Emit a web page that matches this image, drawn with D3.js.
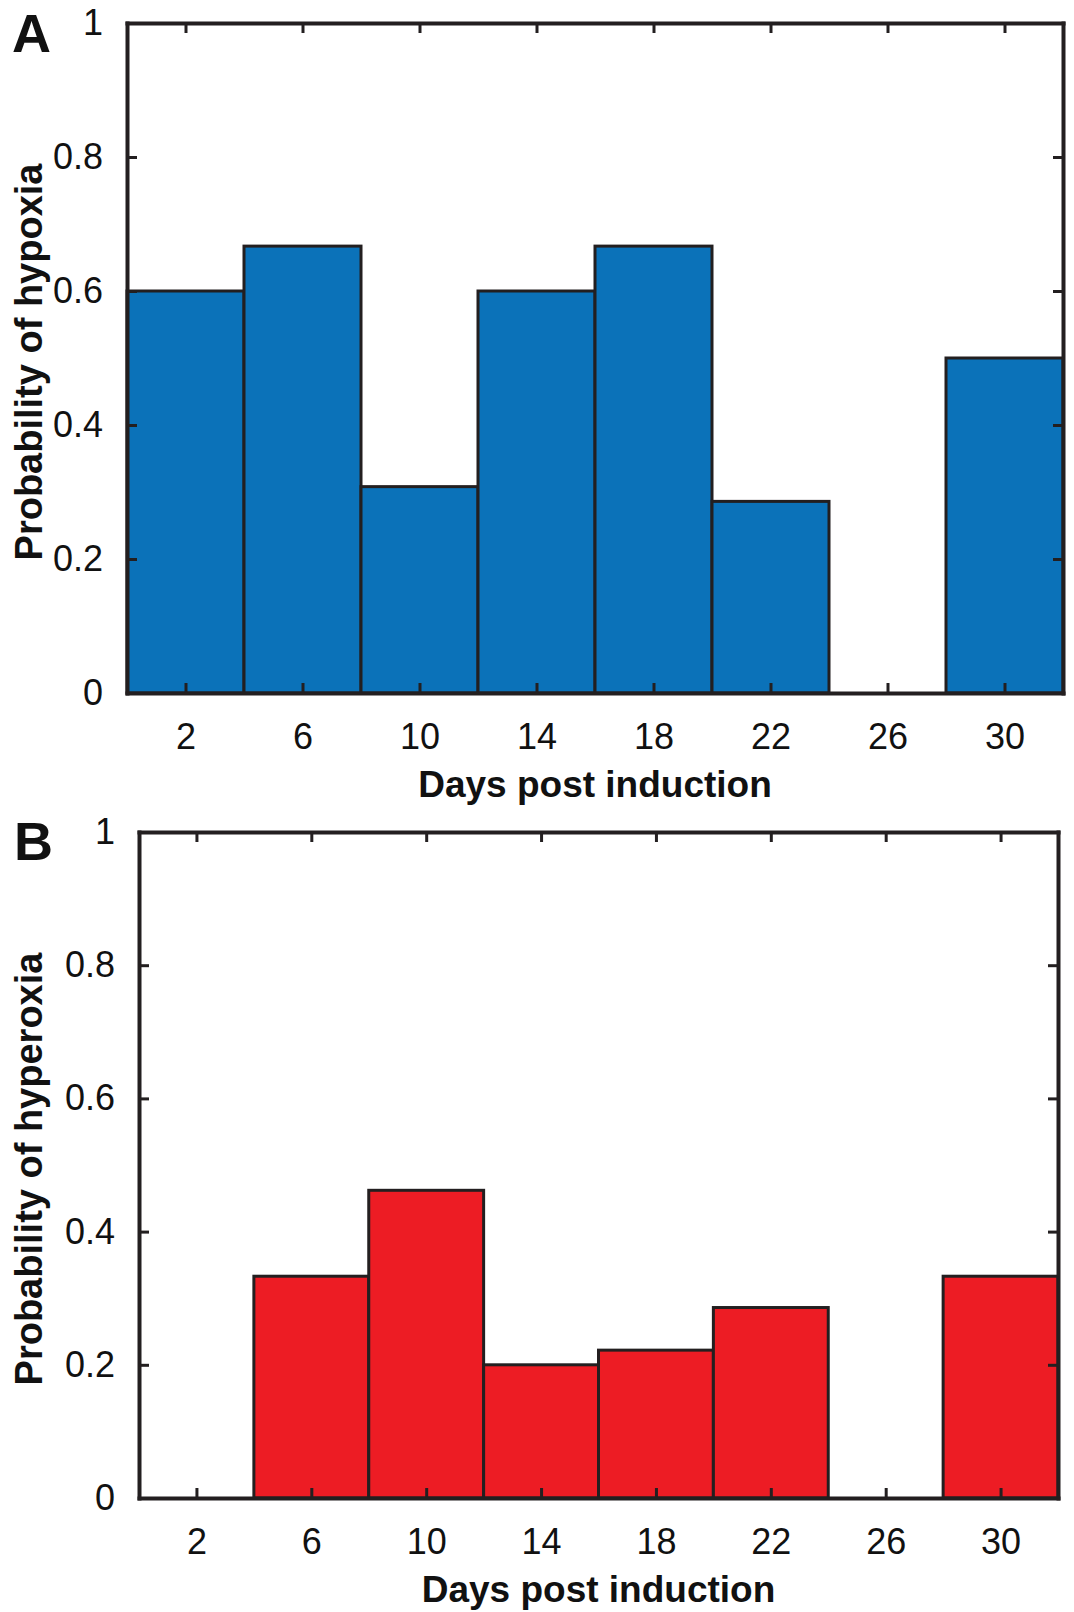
<!DOCTYPE html>
<html>
<head>
<meta charset="utf-8">
<script src="https://cdn.jsdelivr.net/npm/d3@7"></script>
<style>
  body { margin: 0; background: #fff; }
  svg text { font-family: "Liberation Sans", Arial, Helvetica, sans-serif; fill: #111; }
</style>
</head>
<body>
<svg id="chart" width="1074" height="1612"></svg>
<script>
// bins are 4 days wide, centred on these days
const days = [2, 6, 10, 14, 18, 22, 26, 30];
const binWidth = 4;
const hypoxia = [0.6, 0.667, 0.308, 0.6, 0.667, 0.286, 0, 0.5];
const hyperoxia = [0, 0.333, 0.462, 0.2, 0.222, 0.286, 0, 0.333];
const yTicks = [0, 0.2, 0.4, 0.6, 0.8, 1];

const svg = d3.select("#chart");
const edge = "#231f20";

function panel(opts) {
  const {left, right, top, bottom, values, fill, ylabel, letter, letterPos} = opts;

  const x = d3.scaleLinear().domain([0, 32]).range([left, right]);
  const y = d3.scaleLinear().domain([0, 1]).range([bottom, top]);

  const g = svg.append("g");

  g.selectAll("rect.bar")
    .data(days.map((d, i) => ({day: d, v: values[i]})).filter(d => d.v > 0))
    .join("rect")
      .attr("class", "bar")
      .attr("x", d => x(d.day - binWidth / 2))
      .attr("width", d => x(d.day + binWidth / 2) - x(d.day - binWidth / 2))
      .attr("y", d => y(d.v))
      .attr("height", d => y(0) - y(d.v))
      .attr("fill", fill)
      .attr("stroke", edge)
      .attr("stroke-width", 3);

  const fmt = d => d === 0 || d === 1 ? d3.format("d")(d) : d3.format(".1f")(d);

  const axes = [
    {ax: d3.axisBottom(x).tickValues(days).tickSize(-10).tickPadding(30), pos: `translate(0,${bottom})`},
    {ax: d3.axisTop(x).tickValues(days).tickSize(-10).tickFormat(""), pos: `translate(0,${top})`},
    {ax: d3.axisLeft(y).tickValues(yTicks).tickSize(-10).tickPadding(24).tickFormat(fmt), pos: `translate(${left},0)`},
    {ax: d3.axisRight(y).tickValues(yTicks).tickSize(-10).tickFormat(""), pos: `translate(${right},0)`}
  ];

  axes.forEach(a => {
    const ag = g.append("g")
      .attr("transform", a.pos)
      .call(a.ax.tickSizeOuter(0));
    ag.select(".domain")
      .attr("stroke", edge)
      .attr("stroke-width", 4)
      .attr("stroke-linecap", "square");
    ag.selectAll(".tick line")
      .attr("stroke", edge)
      .attr("stroke-width", 3);
    ag.selectAll(".tick text")
      .attr("font-size", 36)
      .attr("fill", "#111")
      .style("font-family", '"Liberation Sans", Arial, sans-serif');
  });

  g.append("text")
    .attr("x", (left + right) / 2)
    .attr("y", bottom + 104)
    .attr("text-anchor", "middle")
    .attr("font-size", 37)
    .attr("font-weight", "bold")
    .text("Days post induction");

  g.append("text")
    .attr("transform", `translate(42,${(top + bottom) / 2 + 4}) rotate(-90)`)
    .attr("text-anchor", "middle")
    .attr("font-size", 38)
    .attr("font-weight", "bold")
    .text(ylabel);

  g.append("text")
    .attr("x", letterPos[0])
    .attr("y", letterPos[1])
    .attr("font-size", 54)
    .attr("font-weight", "bold")
    .text(letter);
}

panel({left: 127, right: 1063, top: 23, bottom: 693, values: hypoxia, fill: "#0b72b9",
  ylabel: "Probability of hypoxia", letter: "A", letterPos: [12, 52]});

panel({left: 139, right: 1058, top: 832, bottom: 1498, values: hyperoxia, fill: "#ed1c24",
  ylabel: "Probability of hyperoxia", letter: "B", letterPos: [14, 860]});
</script>
</body>
</html>
